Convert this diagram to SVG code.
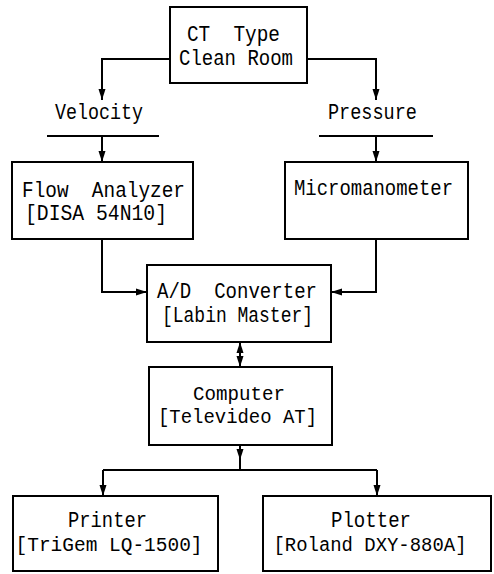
<svg xmlns="http://www.w3.org/2000/svg" width="494" height="574" viewBox="0 0 494 574">
<style>
.box{fill:#fff;stroke:#000;stroke-width:2}
.ln{fill:none;stroke:#000;stroke-width:2}
text{font-family:"Liberation Mono","DejaVu Sans Mono",monospace;font-size:22px;fill:#000}
.c{text-anchor:middle}
.s{font-size:20px}
</style>
<defs>
<marker id="ah" markerUnits="userSpaceOnUse" markerWidth="12" markerHeight="8" refX="11" refY="4" orient="auto">
<path d="M0,0.5 L11,4 L0,7.5 z" fill="#000"/>
</marker>
<marker id="ahs" markerUnits="userSpaceOnUse" markerWidth="12" markerHeight="8" refX="11" refY="4" orient="auto-start-reverse">
<path d="M0,0.5 L11,4 L0,7.5 z" fill="#000"/>
</marker>
</defs>
<rect width="494" height="574" fill="#fff"/>
<g id="connectors">
<path class="ln" d="M170,59 H102 V100" marker-end="url(#ah)"/>
<path class="ln" d="M307,59 H376 V100" marker-end="url(#ah)"/>
<path class="ln" d="M47,136 H159"/>
<path class="ln" d="M319,136 H433"/>
<path class="ln" d="M102,136 V162" marker-end="url(#ah)"/>
<path class="ln" d="M376,136 V162" marker-end="url(#ah)"/>
<path class="ln" d="M102,239 V292 H147" marker-end="url(#ah)"/>
<path class="ln" d="M376,239 V292 H331" marker-end="url(#ah)"/>
<path class="ln" d="M240,342 V367" marker-start="url(#ahs)" marker-end="url(#ah)"/>
<path class="ln" d="M240,445 V460" marker-end="url(#ah)"/>
<path class="ln" d="M240,456 V470"/>
<path class="ln" d="M103,470 H377"/>
<path class="ln" d="M103,470 V496" marker-end="url(#ah)"/>
<path class="ln" d="M377,470 V496" marker-end="url(#ah)"/>
</g>
<g id="ct">
<rect class="box" x="170" y="7" width="137" height="76"/>
<text x="187" y="41" textLength="93" lengthAdjust="spacingAndGlyphs" xml:space="preserve">CT  Type</text>
<text x="179" y="65" textLength="114" lengthAdjust="spacingAndGlyphs">Clean Room</text>
</g>
<g id="velocity">
<text x="55" y="119" textLength="88" lengthAdjust="spacingAndGlyphs">Velocity</text>
</g>
<g id="pressure">
<text x="328" y="119" textLength="89" lengthAdjust="spacingAndGlyphs">Pressure</text>
</g>
<g id="flow">
<rect class="box" x="12" y="162" width="181" height="77"/>
<text x="22" y="197" textLength="163" lengthAdjust="spacingAndGlyphs" xml:space="preserve">Flow  Analyzer</text>
<text x="25" y="220" textLength="142" lengthAdjust="spacingAndGlyphs">[DISA 54N10]</text>
</g>
<g id="micro">
<rect class="box" x="285" y="162" width="183" height="77"/>
<text x="294" y="195" textLength="159" lengthAdjust="spacingAndGlyphs">Micromanometer</text>
</g>
<g id="ad">
<rect class="box" x="147" y="265" width="184" height="77"/>
<text x="157" y="298" textLength="160" lengthAdjust="spacingAndGlyphs" xml:space="preserve">A/D  Converter</text>
<text x="162" y="322" textLength="151" lengthAdjust="spacingAndGlyphs">[Labin Master]</text>
</g>
<g id="computer">
<rect class="box" x="149" y="367" width="183" height="78"/>
<text x="193" y="400" textLength="92" lengthAdjust="spacingAndGlyphs" style="font-size:21px">Computer</text>
<text x="158" y="423" textLength="159" lengthAdjust="spacingAndGlyphs" style="font-size:21px">[Televideo AT]</text>
</g>
<g id="printer">
<rect class="box" x="13" y="496" width="205" height="75"/>
<text x="68" y="527" textLength="79" lengthAdjust="spacingAndGlyphs">Printer</text>
<text class="c s" x="109" y="551" textLength="187" lengthAdjust="spacingAndGlyphs">[TriGem LQ-1500]</text>
</g>
<g id="plotter">
<rect class="box" x="263" y="496" width="228" height="75"/>
<text x="331" y="527" textLength="80" lengthAdjust="spacingAndGlyphs">Plotter</text>
<text class="c s" x="370" y="551" textLength="193" lengthAdjust="spacingAndGlyphs">[Roland DXY-880A]</text>
</g>
</svg>
